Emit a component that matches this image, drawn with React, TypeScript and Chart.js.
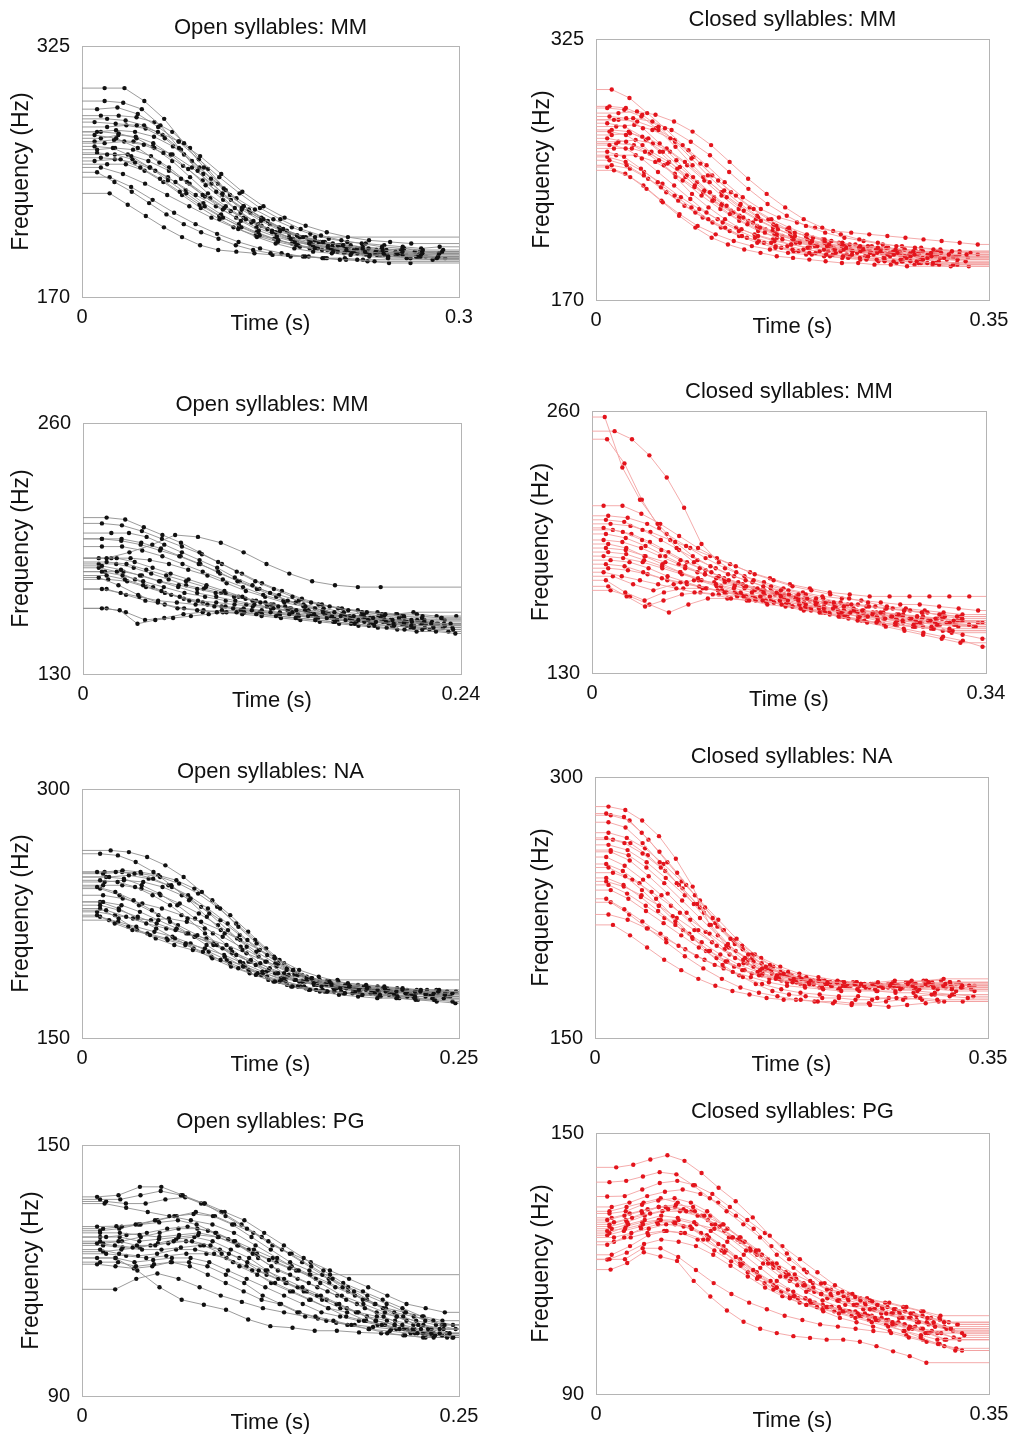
import React, { useEffect, useRef } from "react";
import { Chart, registerables } from "chart.js";
Chart.register(...registerables);

const FONT = "'Liberation Sans', Arial, Helvetica, sans-serif";

// ---------- Panel 1: Open syllables: MM (row 1) ----------
const om1Title = "Open syllables: MM";
const om1XTicks = ["0", "0.3"];
const om1YTicks = ["170", "325"];
const om1Start = [0.018, 0.018, 0.012, 0.015, 0.01, 0.02, 0.012, 0.01, 0.015, 0.018, 0.01, 0.012, 0.02, 0.015, 0.01, 0.02, 0.015, 0.012, 0.022, 0.022, 0.015, 0.02, 0.01, 0.012];
const om1Step = [0.0158, 0.0148, 0.0162, 0.0142, 0.0168, 0.0153, 0.0151, 0.0172, 0.0139, 0.0156, 0.0146, 0.0143, 0.0164, 0.0157, 0.0161, 0.0149, 0.0176, 0.0138, 0.0171, 0.0144, 0.0142, 0.0147, 0.0155, 0.0141];
const om1Freq = [
  [299, 299, 291, 280, 265, 250, 237, 226, 218, 212, 207, 204, 202, 200, 199, 198, 197, 198],
  [291, 290, 286, 276, 262, 248, 235, 225, 217, 211, 206, 203, 201, 199, 198, 197, 198, 196, 197],
  [286, 287, 283, 275, 266, 255, 244, 234, 225, 218, 212, 208, 205, 203, 201, 200, 199, 199],
  [282, 282, 281, 278, 272, 262, 249, 236, 226, 219, 213, 208, 205, 203, 202, 200, 199, 200, 198],
  [278, 277, 276, 272, 266, 257, 246, 235, 226, 219, 214, 210, 207, 205, 204, 203],
  [275, 276, 274, 268, 258, 246, 234, 224, 217, 211, 207, 204, 202, 200, 199, 198, 198],
  [272, 273, 272, 269, 263, 254, 243, 233, 224, 217, 211, 207, 204, 202, 201, 200, 199, 198, 197],
  [270, 268, 262, 253, 243, 233, 225, 218, 212, 207, 204, 201, 199, 198, 197, 196],
  [268, 270, 269, 265, 258, 249, 239, 230, 222, 215, 210, 206, 203, 201, 200, 199, 198, 197],
  [265, 266, 264, 259, 251, 242, 233, 225, 218, 212, 207, 204, 202, 200, 198, 197, 196, 195],
  [263, 262, 257, 250, 242, 234, 226, 219, 213, 208, 205, 202, 200, 198, 197, 196, 195],
  [261, 262, 261, 257, 250, 241, 232, 224, 217, 211, 207, 204, 202, 200, 199, 197, 196, 196, 195],
  [258, 258, 254, 248, 240, 231, 223, 216, 210, 205, 202, 200, 198, 197, 196, 195, 194],
  [256, 255, 250, 243, 235, 227, 220, 214, 209, 205, 202, 200, 198, 197, 196, 196],
  [254, 255, 253, 248, 241, 233, 226, 219, 213, 208, 204, 201, 199, 198, 197, 196, 195, 195],
  [252, 252, 248, 241, 233, 225, 218, 212, 207, 203, 200, 198, 197, 196, 195, 194, 194],
  [250, 246, 240, 233, 226, 219, 213, 208, 204, 201, 199, 197, 196, 195, 194, 193],
  [247, 241, 235, 228, 221, 215, 210, 206, 202, 199, 197, 196, 195, 194, 193, 193, 192],
  [244, 238, 230, 222, 215, 209, 204, 200, 197, 195, 194, 193, 192, 191, 191],
  [234, 227, 220, 213, 207, 202, 199, 198, 197, 196, 195, 195, 194, 194, 193],
  [272, 271, 268, 262, 254, 244, 234, 226, 219, 214, 210, 208, 207],
  [280, 279, 276, 270, 261, 250, 240, 231, 224, 218, 213, 209, 206, 204, 203, 202, 201, 200, 201],
  [266, 267, 266, 263, 258, 250, 240, 230, 222, 215, 209, 205, 202, 200, 198, 197, 196, 195, 194],
  [259, 258, 255, 250, 244, 236, 228, 221, 215, 210, 206, 203, 200, 199, 198, 197, 196, 196, 195, 194],
];

// ---------- Panel 2: Closed syllables: MM (row 1) ----------
const cm1Title = "Closed syllables: MM";
const cm1XTicks = ["0", "0.35"];
const cm1YTicks = ["170", "325"];
const cm1Start = [0.014, 0.01, 0.02, 0.012, 0.016, 0.01, 0.018, 0.012, 0.014, 0.01, 0.02, 0.012, 0.016, 0.01, 0.018, 0.012, 0.014, 0.016, 0.01, 0.02, 0.012, 0.018, 0.014, 0.01];
const cm1Step = [0.0158, 0.0152, 0.0165, 0.0149, 0.0171, 0.0156, 0.0161, 0.0147, 0.0163, 0.0168, 0.0153, 0.0144, 0.0159, 0.015, 0.0174, 0.0153, 0.0162, 0.0145, 0.0161, 0.0167, 0.0146, 0.0157, 0.0152, 0.0164];
const cm1Freq = [
  [295, 290, 281, 272, 262, 251, 241, 232, 224, 218, 213, 209, 206, 204, 202, 201, 200, 199, 198, 197, 197],
  [284, 283, 279, 271, 261, 250, 240, 231, 223, 217, 212, 208, 205, 203, 201, 200, 199, 198, 197, 196],
  [281, 282, 280, 276, 270, 262, 252, 242, 233, 225, 218, 213, 209, 206, 204, 202, 201, 200, 199, 198],
  [279, 278, 272, 263, 253, 243, 234, 226, 219, 213, 209, 206, 204, 202, 200, 199, 198, 197, 196, 195, 195],
  [277, 278, 276, 271, 264, 256, 246, 236, 227, 220, 214, 210, 207, 205, 203, 202, 201, 200, 199],
  [275, 273, 267, 258, 248, 238, 229, 221, 215, 210, 206, 204, 202, 200, 199, 198, 197, 196, 195, 195, 194],
  [273, 274, 271, 266, 259, 250, 240, 231, 224, 219, 216, 213, 211, 210, 209, 208, 207, 206, 205, 204, 203],
  [270, 268, 262, 253, 243, 233, 225, 218, 212, 208, 205, 203, 201, 200, 199, 198, 197, 196, 195, 194],
  [268, 269, 266, 260, 252, 243, 234, 226, 219, 214, 210, 207, 205, 203, 202, 201, 200, 199, 198, 197, 197],
  [266, 264, 258, 250, 241, 232, 224, 217, 211, 207, 204, 202, 200, 199, 198, 197, 196, 195, 194, 193],
  [264, 265, 263, 258, 250, 241, 232, 224, 218, 213, 209, 206, 204, 202, 201, 200, 199, 198, 197],
  [262, 260, 254, 246, 238, 230, 222, 216, 211, 207, 204, 202, 200, 199, 198, 197, 196, 195, 194, 193, 192],
  [260, 260, 257, 251, 243, 234, 226, 219, 213, 209, 206, 203, 201, 200, 199, 198, 197, 196, 196, 195],
  [258, 255, 248, 240, 232, 225, 218, 213, 208, 205, 202, 200, 198, 197, 196, 195, 194, 193, 193, 192],
  [256, 256, 252, 245, 237, 229, 222, 216, 211, 207, 204, 202, 200, 199, 198, 197, 196, 195, 195],
  [253, 250, 244, 237, 229, 222, 216, 211, 207, 204, 201, 199, 198, 197, 196, 195, 194, 193, 192, 192, 191],
  [250, 248, 242, 234, 226, 219, 213, 208, 204, 201, 199, 197, 196, 195, 194, 193, 193, 192, 191, 191],
  [247, 243, 236, 228, 220, 213, 207, 203, 200, 198, 196, 195, 194, 193, 192, 192, 191, 191, 190],
  [249, 245, 238, 229, 221, 214, 209, 205, 202, 200, 198, 197, 196, 195, 194, 193, 192, 191, 191, 190, 190],
  [277, 276, 272, 265, 255, 244, 234, 225, 218, 212, 208, 205, 203, 201, 200, 199, 198, 197, 196],
  [285, 284, 280, 273, 264, 254, 244, 235, 227, 220, 215, 211, 208, 206, 204, 203, 202, 201, 200, 199, 199],
  [263, 262, 258, 252, 244, 235, 227, 220, 214, 210, 207, 205, 203, 202, 201, 200, 199, 199, 198, 198],
  [271, 270, 265, 258, 249, 240, 231, 223, 217, 212, 208, 205, 203, 201, 200, 199, 198, 197, 197, 196, 196],
  [255, 252, 246, 239, 231, 224, 218, 213, 209, 206, 203, 201, 199, 197, 196, 195, 194, 194, 193, 192],
];

// ---------- Panel 3: Open syllables: MM (row 2) ----------
const om2Title = "Open syllables: MM";
const om2XTicks = ["0", "0.24"];
const om2YTicks = ["130", "260"];
const om2Start = [0.015, 0.012, 0.018, 0.012, 0.015, 0.01, 0.015, 0.012, 0.012, 0.015, 0.01, 0.012, 0.012, 0.015, 0.01, 0.012, 0.018, 0.014, 0.015, 0.012, 0.016, 0.01];
const om2Step = [0.0118, 0.0127, 0.0112, 0.0123, 0.0145, 0.0114, 0.0126, 0.0121, 0.0131, 0.0116, 0.0125, 0.0119, 0.0113, 0.0122, 0.0115, 0.0128, 0.0122, 0.0117, 0.0123, 0.0125, 0.012, 0.0111];
const om2Freq = [
  [211, 210, 206, 202, 198, 193, 188, 183, 178, 174, 170, 167, 165, 163, 162, 161, 160, 160, 159],
  [208, 207, 204, 200, 196, 192, 187, 182, 177, 173, 169, 166, 164, 162, 161, 160, 159, 159],
  [203, 203, 201, 197, 193, 189, 185, 180, 176, 172, 168, 165, 162, 160, 158, 157, 156, 155],
  [200, 199, 197, 194, 191, 187, 183, 178, 174, 170, 167, 164, 162, 160, 159, 158, 157, 156, 156],
  [190, 193, 197, 202, 201, 198, 193, 187, 182, 178, 176, 175, 175],
  [190, 190, 188, 185, 182, 179, 176, 173, 170, 167, 165, 163, 161, 160, 159, 158, 157, 156, 156],
  [188, 187, 184, 181, 178, 175, 172, 169, 167, 165, 163, 161, 160, 159, 158, 157, 157, 156],
  [186, 184, 181, 178, 175, 172, 170, 168, 166, 164, 162, 161, 160, 159, 158, 157, 157, 156, 155],
  [183, 181, 178, 175, 172, 170, 168, 166, 165, 163, 162, 161, 160, 159, 158, 158, 157],
  [181, 179, 176, 173, 170, 168, 167, 166, 165, 164, 163, 162, 161, 160, 160, 159, 159, 158],
  [180, 176, 171, 167, 164, 163, 162, 162, 161, 160, 159, 158, 157, 156, 155, 155, 154, 154, 153],
  [174, 172, 170, 168, 167, 166, 165, 164, 163, 162, 161, 160, 159, 158, 157, 157, 156, 156],
  [164, 163, 156, 158, 159, 160, 161, 162, 162, 161, 160, 159, 158, 157, 156, 155, 154, 153, 153],
  [164, 162, 158, 159, 161, 162, 163, 163, 162, 161, 160, 159, 158, 157, 157, 156, 155, 155, 154],
  [185, 183, 179, 175, 171, 168, 166, 165, 164, 163, 162, 161, 160, 159, 158, 157, 156, 155, 154, 154],
  [196, 196, 194, 191, 187, 183, 179, 175, 171, 168, 166, 164, 162, 161, 160, 159, 158, 158],
  [190, 190, 189, 187, 184, 181, 177, 173, 170, 167, 165, 163, 161, 160, 159, 158, 157, 156],
  [183, 183, 181, 178, 176, 174, 172, 170, 168, 166, 164, 162, 161, 160, 159, 158, 157, 157, 156],
  [174, 171, 168, 166, 164, 163, 162, 161, 160, 159, 158, 157, 156, 155, 154, 153, 152, 152, 151],
  [200, 200, 198, 195, 191, 187, 182, 178, 174, 171, 168, 166, 164, 163, 162, 161, 161, 160, 160],
  [179, 178, 175, 172, 169, 167, 165, 163, 162, 161, 160, 159, 158, 157, 156, 155, 154, 153, 152],
  [187, 187, 185, 182, 179, 176, 174, 172, 170, 168, 166, 164, 163, 162, 161, 160, 160, 161, 162],
];

// ---------- Panel 4: Closed syllables: MM (row 2) ----------
const cm2Title = "Closed syllables: MM";
const cm2XTicks = ["0", "0.34"];
const cm2YTicks = ["130", "260"];
const cm2Start = [0.011, 0.0195, 0.013, 0.01, 0.014, 0.012, 0.016, 0.01, 0.018, 0.012, 0.014, 0.01, 0.016, 0.012, 0.014, 0.01, 0.018, 0.012, 0.014, 0.016, 0.01, 0.012, 0.014];
const cm2Step = [0.0152, 0.015, 0.015, 0.0163, 0.0168, 0.0158, 0.0172, 0.0166, 0.016, 0.0171, 0.0155, 0.0169, 0.0164, 0.0161, 0.017, 0.0157, 0.0175, 0.0167, 0.0159, 0.0168, 0.0162, 0.0171, 0.0156];
const cm2Freq = [
  [257, 232, 216, 204, 195, 188, 183, 179, 176, 173, 171, 169, 167, 165, 164, 163, 162, 161, 160, 159, 158],
  [250, 246, 238, 227, 212, 194, 185, 180, 176, 173, 171, 169, 167, 165, 164, 163, 162, 161, 160, 158, 157],
  [246, 234, 216, 202, 192, 185, 180, 176, 173, 170, 168, 166, 164, 162, 160, 158, 157, 156, 155, 154],
  [213, 213, 209, 204, 198, 192, 187, 183, 179, 176, 173, 171, 169, 167, 165, 163, 162, 161, 160, 159],
  [208, 207, 204, 199, 193, 187, 182, 178, 175, 172, 170, 168, 167, 166, 165, 164, 164, 163, 162, 161],
  [206, 205, 201, 196, 191, 186, 182, 178, 175, 172, 169, 167, 165, 163, 161, 160, 159, 158, 157, 156],
  [204, 203, 200, 196, 192, 188, 184, 180, 177, 174, 172, 170, 169, 168, 168, 168, 168, 168, 168],
  [202, 200, 196, 191, 186, 182, 178, 175, 172, 170, 168, 166, 164, 162, 160, 158, 157, 156, 155, 154],
  [201, 199, 195, 190, 185, 181, 177, 174, 171, 169, 167, 165, 163, 161, 159, 158, 157, 156, 155],
  [192, 191, 188, 185, 182, 179, 176, 173, 171, 169, 167, 165, 163, 161, 160, 159, 158, 157, 156, 155],
  [190, 189, 186, 183, 180, 177, 174, 172, 170, 168, 166, 164, 162, 160, 158, 156, 155, 154, 153, 152],
  [188, 187, 185, 182, 179, 176, 173, 170, 168, 166, 164, 162, 160, 158, 157, 156, 155, 154, 154, 153],
  [186, 185, 182, 178, 175, 172, 170, 168, 166, 164, 162, 160, 158, 156, 155, 154, 153, 152, 151],
  [184, 183, 180, 177, 175, 173, 171, 169, 167, 165, 163, 161, 159, 157, 155, 153, 151, 149, 147, 145],
  [182, 181, 179, 176, 174, 172, 170, 168, 166, 164, 162, 160, 158, 156, 154, 152, 150, 148, 146, 143],
  [180, 178, 176, 174, 172, 170, 169, 167, 166, 164, 163, 161, 160, 158, 157, 155, 154, 153, 152, 151],
  [178, 174, 171, 174, 176, 175, 173, 171, 169, 167, 165, 163, 161, 160, 159, 158, 157, 156, 155],
  [176, 170, 166, 170, 172, 172, 171, 169, 168, 166, 164, 163, 161, 160, 158, 157, 156, 155, 154, 153],
  [173, 168, 163, 166, 169, 170, 169, 168, 166, 165, 163, 162, 160, 159, 158, 157, 156, 155, 154, 153],
  [171, 168, 164, 160, 164, 167, 167, 166, 165, 164, 163, 162, 161, 160, 159, 158, 157, 157, 156],
  [196, 195, 192, 188, 184, 180, 177, 174, 172, 170, 168, 166, 165, 164, 163, 162, 161, 160, 159, 158],
  [199, 197, 193, 188, 183, 179, 175, 172, 169, 167, 165, 163, 161, 159, 157, 155, 153, 151, 149, 147],
  [194, 192, 188, 184, 180, 176, 173, 170, 168, 166, 164, 162, 160, 158, 156, 155, 154, 153, 152, 150],
];

// ---------- Panel 5: Open syllables: NA ----------
const on1Title = "Open syllables: NA";
const on1XTicks = ["0", "0.25"];
const on1YTicks = ["150", "300"];
const on1Start = [0.019, 0.012, 0.01, 0.014, 0.018, 0.012, 0.015, 0.01, 0.012, 0.014, 0.012, 0.016, 0.01, 0.018, 0.012, 0.014, 0.01, 0.016, 0.012, 0.015, 0.012, 0.014];
const on1Step = [0.0121, 0.0118, 0.0124, 0.0126, 0.0131, 0.0116, 0.0128, 0.0121, 0.0129, 0.0122, 0.0125, 0.0133, 0.0117, 0.0127, 0.0123, 0.013, 0.0119, 0.0118, 0.0124, 0.0119, 0.012, 0.0127];
const on1Freq = [
  [263, 262, 259, 254, 247, 238, 228, 217, 207, 198, 191, 186, 184, 183, 182, 181, 180, 179, 179],
  [261, 260, 256, 250, 242, 233, 223, 213, 203, 195, 189, 185, 183, 182, 181, 180, 180, 179, 178, 178],
  [250, 250, 249, 246, 241, 234, 225, 215, 205, 196, 189, 184, 181, 180, 179, 179, 178, 178, 177, 177],
  [249, 250, 249, 247, 243, 237, 229, 219, 209, 199, 191, 186, 183, 181, 180, 179, 178, 177, 177],
  [247, 248, 246, 242, 236, 228, 219, 209, 200, 192, 186, 182, 180, 179, 178, 177, 177, 176],
  [245, 244, 241, 236, 230, 222, 213, 204, 196, 189, 184, 181, 179, 178, 177, 176, 176, 175, 175],
  [244, 245, 244, 241, 236, 229, 221, 212, 203, 195, 188, 183, 180, 178, 177, 176, 175, 175],
  [241, 238, 233, 227, 220, 213, 206, 199, 193, 188, 184, 181, 179, 178, 177, 177, 176, 175, 175, 174],
  [240, 236, 230, 224, 218, 212, 206, 200, 194, 189, 185, 182, 180, 179, 178, 177, 176, 176, 175],
  [232, 230, 226, 221, 216, 211, 206, 201, 196, 191, 187, 184, 182, 180, 179, 178, 178, 177],
  [230, 227, 223, 219, 215, 211, 207, 202, 197, 192, 188, 185, 183, 182, 181, 180, 179, 178, 178],
  [227, 223, 219, 216, 213, 210, 206, 201, 196, 191, 187, 184, 182, 181, 180, 179, 179, 178],
  [224, 219, 215, 212, 209, 206, 202, 197, 192, 188, 184, 181, 179, 178, 177, 176, 176, 175, 174, 174],
  [221, 217, 213, 210, 207, 204, 200, 195, 190, 185, 181, 178, 176, 175, 174, 174, 173, 173],
  [228, 222, 215, 210, 206, 203, 199, 195, 191, 187, 184, 181, 179, 178, 177, 176, 175, 174, 173, 172],
  [236, 234, 231, 228, 224, 220, 215, 209, 203, 197, 191, 187, 184, 182, 181, 180, 179, 179, 178],
  [226, 224, 222, 221, 222, 220, 216, 211, 205, 199, 193, 188, 185, 183, 182, 181, 180, 179, 178, 177],
  [247, 246, 242, 237, 230, 222, 213, 204, 196, 190, 186, 184, 185, 185],
  [232, 228, 222, 216, 210, 204, 198, 193, 189, 185, 182, 180, 178, 177, 176, 175, 174, 173, 172, 171],
  [250, 251, 250, 248, 245, 240, 233, 224, 214, 204, 195, 188, 184, 181, 180, 179, 178, 178, 177],
  [223, 220, 217, 214, 211, 207, 202, 197, 193, 189, 186, 184, 182, 181, 180, 179, 178, 177, 176, 176],
  [242, 242, 240, 236, 231, 225, 218, 210, 202, 195, 189, 185, 182, 180, 179, 178, 177, 176, 175],
];

// ---------- Panel 6: Closed syllables: NA ----------
const cn1Title = "Closed syllables: NA";
const cn1XTicks = ["0", "0.35"];
const cn1YTicks = ["150", "300"];
const cn1Start = [0.012, 0.01, 0.014, 0.012, 0.01, 0.016, 0.012, 0.014, 0.01, 0.012, 0.016, 0.01, 0.012, 0.014, 0.01, 0.012, 0.016, 0.014, 0.01, 0.012, 0.014, 0.01];
const cn1Step = [0.015, 0.0158, 0.0168, 0.0152, 0.0162, 0.0155, 0.017, 0.0159, 0.0164, 0.0149, 0.0172, 0.0154, 0.0166, 0.0157, 0.0161, 0.0171, 0.0152, 0.0165, 0.0148, 0.0163, 0.0169, 0.0157];
const cn1Freq = [
  [283, 281, 275, 266, 253, 237, 215, 203, 195, 189, 186, 184, 183, 182, 182, 181, 182, 183, 183, 182, 181, 180],
  [279, 277, 268, 257, 245, 232, 219, 207, 198, 191, 187, 184, 183, 182, 181, 181, 180, 181, 181, 180, 179],
  [278, 275, 264, 251, 238, 225, 212, 201, 193, 188, 185, 183, 182, 181, 181, 180, 180, 181, 181, 180],
  [274, 271, 262, 251, 239, 227, 215, 204, 196, 190, 186, 184, 183, 182, 181, 181, 180, 180, 181, 181, 182],
  [265, 262, 256, 248, 238, 227, 216, 206, 198, 192, 188, 185, 183, 182, 181, 180, 180, 179, 179, 178],
  [264, 262, 255, 246, 236, 225, 214, 204, 196, 190, 186, 184, 183, 182, 182, 181, 181, 182, 183, 184],
  [261, 258, 251, 242, 232, 222, 212, 203, 196, 191, 187, 185, 183, 182, 181, 181, 180, 180, 179, 179],
  [258, 255, 248, 239, 229, 219, 209, 200, 194, 189, 186, 184, 182, 181, 181, 180, 180, 181, 182, 182],
  [254, 249, 241, 232, 222, 212, 203, 196, 191, 187, 184, 182, 181, 180, 180, 179, 179, 178, 178, 177, 177],
  [248, 243, 235, 226, 217, 208, 200, 194, 189, 186, 184, 182, 181, 181, 180, 180, 181, 182, 182, 181],
  [245, 241, 234, 226, 218, 210, 202, 195, 190, 186, 183, 181, 180, 180, 179, 179, 180, 181, 181],
  [242, 238, 231, 223, 215, 207, 200, 194, 189, 186, 184, 182, 181, 180, 180, 179, 179, 178, 177, 176, 175],
  [238, 233, 226, 219, 212, 205, 198, 192, 188, 185, 183, 181, 180, 180, 179, 179, 180, 181, 180, 179],
  [235, 230, 223, 216, 209, 202, 196, 191, 187, 184, 182, 180, 179, 179, 178, 178, 179, 180, 180, 179],
  [230, 224, 217, 210, 203, 197, 192, 188, 185, 182, 180, 179, 178, 177, 177, 177, 176, 176, 175, 174, 173],
  [221, 218, 213, 207, 201, 195, 190, 185, 181, 178, 176, 175, 174, 174, 173, 173, 174, 175, 175, 174],
  [215, 209, 202, 195, 189, 184, 180, 177, 175, 173, 172, 172, 171, 171, 170, 170, 171, 172, 173, 172],
  [228, 221, 213, 205, 197, 190, 184, 179, 176, 174, 172, 171, 170, 169, 169, 168, 169, 170, 171, 171],
  [250, 246, 239, 230, 220, 210, 200, 192, 186, 181, 177, 175, 174, 173, 173, 172, 172, 173, 173, 172, 171],
  [268, 265, 259, 250, 240, 229, 218, 207, 198, 191, 186, 183, 181, 180, 180, 179, 179, 180, 180, 181, 180],
  [257, 252, 243, 233, 222, 211, 201, 193, 187, 183, 181, 179, 178, 178, 177, 177, 178, 179, 179, 178],
  [240, 237, 232, 226, 219, 212, 205, 198, 193, 189, 186, 184, 183, 182, 182, 181, 181, 182, 183, 183, 182],
];

// ---------- Panel 7: Open syllables: PG ----------
const op1Title = "Open syllables: PG";
const op1XTicks = ["0", "0.25"];
const op1YTicks = ["90", "150"];
const op1Start = [0.01, 0.012, 0.015, 0.01, 0.014, 0.012, 0.016, 0.012, 0.01, 0.014, 0.012, 0.016, 0.01, 0.012, 0.022, 0.022, 0.012, 0.014, 0.01, 0.016, 0.012, 0.014];
const op1Step = [0.0142, 0.0134, 0.0143, 0.0128, 0.0124, 0.0131, 0.0135, 0.0122, 0.0118, 0.0129, 0.0126, 0.0133, 0.0124, 0.0119, 0.014, 0.0147, 0.013, 0.0121, 0.0122, 0.0131, 0.0127, 0.0125];
const op1Freq = [
  [137.6, 138, 140, 140, 138, 136, 133, 130, 127, 124, 121, 118, 115, 112, 109, 107, 106],
  [137, 137, 138, 139, 138, 136, 134, 131, 128, 125, 122, 119, 116, 113, 111, 109, 107, 106],
  [136, 135, 134, 133, 132, 131, 129, 126, 123, 120, 117, 114, 112, 110, 108, 106, 105],
  [130.5, 130.6, 131, 132, 133, 133.5, 133, 131, 128, 125, 122, 120, 118, 116, 114, 112, 110, 108, 107],
  [130, 130.5, 131, 131.5, 132, 131, 129, 127, 124, 121, 119, 117, 115, 113, 111, 109, 107, 106, 105],
  [129, 129, 128.5, 128, 128.5, 129, 128, 126, 123, 120, 118, 116, 114, 112, 110, 109, 108, 107, 106],
  [128, 128.5, 129, 130, 130.5, 129.5, 127.5, 125, 122.5, 120.5, 119, 119],
  [127, 127, 126, 126, 127, 127, 126, 124, 122, 120, 118, 116, 114, 112, 110, 108, 107, 106, 105],
  [126.5, 126, 125.5, 126, 126.5, 127, 126, 124, 121, 119, 117, 115, 113, 111, 109, 108, 107, 106, 105, 104.5],
  [126, 125.5, 125, 125, 125.5, 126, 125, 123, 120, 118, 116, 114, 112, 110, 108, 107, 106, 105, 104],
  [125, 124, 123.5, 124, 125, 125, 124, 122, 120, 117, 115, 113, 111, 110, 108, 107, 106, 105, 104.5],
  [124, 123.5, 123, 123.5, 124, 124, 123, 121, 119, 117, 115, 113, 111, 109, 108, 106, 105, 104],
  [123, 123, 122, 122.5, 123, 123, 122, 120, 118, 116, 114, 112, 110, 109, 108, 107, 106, 105, 104, 104],
  [122, 122, 121, 121.5, 122, 121, 119, 117, 115, 113, 112, 110, 109, 108, 107, 106, 105, 104.5, 104],
  [115.5, 118, 119.3, 118, 116, 114, 112.5, 111, 110, 109, 108, 107, 106, 105.5, 105, 104.5],
  [123, 120, 116, 113, 111.8, 110.6, 108.3, 106.7, 106.3, 105.6, 105.6, 105.2, 105, 104.5, 104],
  [128, 128, 127, 127.5, 128, 128.5, 128, 126, 124, 122, 120, 118, 116, 114, 112, 110, 109, 108, 107],
  [124.5, 125, 125.5, 126.5, 127.5, 128, 127, 125, 123, 120, 117, 115, 113, 111, 110, 109, 108, 107, 106],
  [121.5, 121, 120.5, 121, 122, 122, 121, 119, 117, 114, 112, 110, 108.5, 107.5, 107, 106.5, 106, 105.5, 105, 105],
  [136.5, 136, 136, 137, 137.5, 136, 134, 132, 129, 126, 123, 120, 117, 115, 113, 111, 109, 107],
  [129.5, 130, 131, 132, 133, 134, 133, 131, 129, 126, 124, 122, 120, 118, 116, 114, 112, 111, 110],
  [126.5, 127, 128, 129, 130, 130, 129, 127, 125, 123, 121, 119, 117, 115, 113, 111, 110, 109, 108],
];

// ---------- Panel 8: Closed syllables: PG ----------
const cp1Title = "Closed syllables: PG";
const cp1XTicks = ["0", "0.35"];
const cp1YTicks = ["90", "150"];
const cp1Start = [0.018, 0.012, 0.01, 0.014, 0.012, 0.01, 0.016, 0.012, 0.014, 0.01, 0.012, 0.016, 0.01, 0.014, 0.012, 0.013, 0.01, 0.016, 0.012, 0.014, 0.01, 0.012];
const cp1Step = [0.0152, 0.0149, 0.0156, 0.0158, 0.0145, 0.0153, 0.0161, 0.0157, 0.0147, 0.0159, 0.0146, 0.0155, 0.0151, 0.0163, 0.0154, 0.0148, 0.0158, 0.0149, 0.0152, 0.016, 0.0148, 0.0146];
const cp1Freq = [
  [142.1, 142.7, 143.9, 144.9, 143.6, 140.8, 137.4, 134.3, 130.6, 126.4, 122.3, 118.6, 115.4, 113.2, 112.3, 111.3, 111, 110, 109, 108],
  [138.7, 139, 140, 141, 140.5, 138, 135, 132, 129, 126, 122, 119, 116, 114, 112.5, 111.5, 110.5, 109.5, 108.5, 107.5, 106.5],
  [135.4, 135.5, 137, 138.5, 139, 138, 136, 133, 130, 127, 124, 121, 118, 115, 113, 111.5, 110, 109, 108, 107, 106],
  [133, 134, 135.5, 136.5, 137, 136, 134, 131, 128, 124, 121, 118, 115.5, 113.5, 112, 110.5, 109.5, 108.5, 107.5, 106.5],
  [131.5, 132, 133.5, 134.5, 135, 134, 132, 129, 126, 123, 120, 117.5, 115, 113, 111.5, 110.5, 109.5, 108.5, 107.5, 106.5, 105.5],
  [130, 131, 132, 133, 133.5, 133, 131, 128, 125, 122, 119, 116.5, 114.5, 113, 112, 111, 110, 109, 108, 106.5, 105],
  [129.5, 130.5, 131.5, 132.5, 132, 131, 129, 126, 123, 120, 117.5, 115.5, 114, 113, 112, 111, 110, 109, 107.5, 106],
  [128.5, 129.5, 131, 132, 132, 131, 129, 126, 123, 120, 117, 115, 113, 111.5, 110.5, 109.5, 108.5, 107.5, 106.5, 105.5, 104],
  [128, 129, 130, 131, 130.5, 129.5, 127.5, 125, 122, 119, 116, 113.5, 111.5, 110, 109, 108, 107, 106, 105, 104],
  [127.5, 128, 129, 130, 130, 129, 128, 126, 123.5, 121, 118, 115.5, 113, 111.5, 110.5, 109.5, 108.5, 107.5, 106, 105, 103.5],
  [127, 128.5, 129.5, 130, 129.5, 128, 125.5, 122.5, 119.5, 116.5, 114, 112, 110.5, 109.5, 108.5, 107.5, 106.5, 105.5, 104.5, 103.5, 102.5],
  [126, 127, 128, 129, 128.5, 127, 124.5, 121.5, 118.5, 116, 114, 112, 110.5, 109.5, 108.5, 107.5, 106.5, 105.5, 104, 102.5],
  [124.3, 126, 128, 129, 129, 128, 126, 123, 120, 117, 114.5, 112.5, 111, 110, 109, 108, 107, 106, 105, 104, 102.5],
  [122, 124, 126.5, 127.5, 127, 125.5, 123, 120, 117, 114.5, 112.5, 111, 110, 109, 108, 107, 106, 105, 104, 102.5],
  [121, 122.5, 124.5, 125.5, 125, 124, 122, 119.5, 117, 114.5, 112.5, 111, 110, 109, 108, 107, 106, 104.5, 103, 101.5, 100],
  [118.6, 120.1, 122.6, 121.6, 120.6, 116, 112.4, 109.2, 106.6, 105, 104, 103.3, 102.9, 102.5, 102.5, 102, 101, 99.8, 98.7, 97.2],
  [120.9, 121, 123.5, 123.5, 121.5, 118.5, 115.5, 113, 111, 109.5, 108, 107, 106, 105.5, 105, 104.5, 104, 103, 102, 101, 100],
  [125, 126, 127, 127.5, 127, 125.5, 123, 120.5, 118, 115.5, 113.5, 112, 111, 110, 109, 108.5, 107.5, 106.5, 105.5, 104.5],
  [132, 133, 134, 135, 134, 132, 129, 126, 123, 120, 117, 115, 113.5, 112.5, 111.5, 110.5, 109.5, 108.5, 107, 106, 105],
  [130.5, 131.5, 132.5, 133, 132.5, 131, 128.5, 125.5, 122.5, 119.5, 116.5, 114, 112, 110.5, 109.5, 108.5, 107.5, 106.5, 105.5, 104.5],
  [126.5, 127.5, 128.5, 129.5, 129.5, 128.5, 126.5, 124, 121, 118, 115, 112.5, 110.5, 109, 107.5, 106.5, 105.5, 104.5, 103.5, 102.5, 101.5, 100.5],
  [129, 130, 131.5, 133, 133, 132, 130, 127.5, 125, 122, 119, 116, 113.5, 111.5, 110, 109, 108, 107, 106, 105, 104, 103],
];

// ---------- Panel layout (positions in page pixels) ----------
type Geom = { L: number; T: number; R: number; B: number; titleY: number; ylabX: number };
type PanelDef = {
  title: string; xMax: number; yMin: number; yMax: number;
  xTicks: string[]; yTicks: string[];
  start: number[]; step: number[]; freq: number[][];
  red: boolean; geom: Geom;
};

const panels: PanelDef[] = [
  { title: om1Title, xMax: 0.3, yMin: 170, yMax: 325, xTicks: om1XTicks, yTicks: om1YTicks, start: om1Start, step: om1Step, freq: om1Freq, red: false, geom: { L: 82, T: 46, R: 459, B: 297, titleY: 28, ylabX: 22 } },
  { title: cm1Title, xMax: 0.35, yMin: 170, yMax: 325, xTicks: cm1XTicks, yTicks: cm1YTicks, start: cm1Start, step: cm1Step, freq: cm1Freq, red: true, geom: { L: 596, T: 39, R: 989, B: 300, titleY: 20, ylabX: 543 } },
  { title: om2Title, xMax: 0.24, yMin: 130, yMax: 260, xTicks: om2XTicks, yTicks: om2YTicks, start: om2Start, step: om2Step, freq: om2Freq, red: false, geom: { L: 83, T: 423, R: 461, B: 674, titleY: 405, ylabX: 22 } },
  { title: cm2Title, xMax: 0.34, yMin: 130, yMax: 260, xTicks: cm2XTicks, yTicks: cm2YTicks, start: cm2Start, step: cm2Step, freq: cm2Freq, red: true, geom: { L: 592, T: 411, R: 986, B: 673, titleY: 392, ylabX: 542 } },
  { title: on1Title, xMax: 0.25, yMin: 150, yMax: 300, xTicks: on1XTicks, yTicks: on1YTicks, start: on1Start, step: on1Step, freq: on1Freq, red: false, geom: { L: 82, T: 789, R: 459, B: 1038, titleY: 772, ylabX: 22 } },
  { title: cn1Title, xMax: 0.35, yMin: 150, yMax: 300, xTicks: cn1XTicks, yTicks: cn1YTicks, start: cn1Start, step: cn1Step, freq: cn1Freq, red: true, geom: { L: 595, T: 777, R: 988, B: 1038, titleY: 757, ylabX: 542 } },
  { title: op1Title, xMax: 0.25, yMin: 90, yMax: 150, xTicks: op1XTicks, yTicks: op1YTicks, start: op1Start, step: op1Step, freq: op1Freq, red: false, geom: { L: 82, T: 1145, R: 459, B: 1396, titleY: 1122, ylabX: 32 } },
  { title: cp1Title, xMax: 0.35, yMin: 90, yMax: 150, xTicks: cp1XTicks, yTicks: cp1YTicks, start: cp1Start, step: cp1Step, freq: cp1Freq, red: true, geom: { L: 596, T: 1133, R: 989, B: 1394, titleY: 1112, ylabX: 542 } },
];

const MARGIN_X = 82;
const MARGIN_TOP = 50;
const MARGIN_BOTTOM = 40;
const FRAME = "#b4b4b4";
const TEXT = "#111111";

function PanelChart({ p }: { p: PanelDef }) {
  const ref = useRef<HTMLCanvasElement>(null);
  const g = p.geom;
  const left = g.L - MARGIN_X;
  const top = g.T - MARGIN_TOP;
  const w = g.R - g.L + 2 * MARGIN_X;
  const h = g.B - g.T + MARGIN_TOP + MARGIN_BOTTOM;

  useEffect(() => {
    if (!ref.current) return;
    const lineColor = p.red ? "#f3a2a2" : "#8e8e8e";
    const dotColor = p.red ? "#e3141c" : "#111111";
    const datasets = p.freq.map((f, i) => {
      const pts = f.map((v, k) => ({ x: p.start[i] + k * p.step[i], y: v }));
      const data = [{ x: 0, y: f[0] }, ...pts, { x: p.xMax, y: f[f.length - 1] }];
      const n = data.length;
      return {
        data,
        borderColor: lineColor,
        borderWidth: 0.9,
        pointRadius: (c: any) => (c.dataIndex === 0 || c.dataIndex === n - 1 ? 0 : 2.2),
        pointHoverRadius: 0,
        pointBackgroundColor: dotColor,
        pointBorderWidth: 0,
        tension: 0,
        fill: false,
      };
    });
    const d = g.T - g.titleY;
    const titleLH = 22 * 1.2;
    const yTitleLH = 23 * 1.2;
    const chart = new Chart(ref.current, {
      type: "line",
      data: { datasets },
      options: {
        animation: false,
        responsive: false,
        maintainAspectRatio: false,
        devicePixelRatio: 1,
        events: [],
        layout: { padding: { left: 0, top: 0, right: MARGIN_X, bottom: 0 } },
        plugins: {
          legend: { display: false },
          tooltip: { enabled: false },
          title: {
            display: true,
            fullSize: false,
            text: p.title,
            color: TEXT,
            font: { family: FONT, size: 22, weight: "normal" },
            padding: { top: MARGIN_TOP - d - titleLH / 2, bottom: d - titleLH / 2 },
          },
        },
        scales: {
          x: {
            type: "linear",
            min: 0,
            max: p.xMax,
            afterBuildTicks: (s: any) => { s.ticks = [{ value: 0 }, { value: p.xMax }]; },
            afterFit: (s: any) => { s.height = MARGIN_BOTTOM; },
            grid: { color: FRAME, lineWidth: 1, drawTicks: false },
            border: { color: FRAME, width: 1 },
            ticks: {
              padding: 8,
              maxRotation: 0,
              autoSkip: false,
              color: TEXT,
              font: { family: FONT, size: 20 },
              callback: (_v: any, i: number) => p.xTicks[i],
            },
            title: { display: true, text: "Time (s)", color: TEXT, font: { family: FONT, size: 22 }, padding: { top: 0, bottom: 0 } },
          },
          y: {
            type: "linear",
            min: p.yMin,
            max: p.yMax,
            afterBuildTicks: (s: any) => { s.ticks = [{ value: p.yMin }, { value: p.yMax }]; },
            afterFit: (s: any) => { s.width = MARGIN_X; },
            grid: { color: FRAME, lineWidth: 1, drawTicks: false },
            border: { color: FRAME, width: 1 },
            ticks: {
              padding: 12,
              autoSkip: false,
              color: TEXT,
              font: { family: FONT, size: 20 },
              callback: (_v: any, i: number) => p.yTicks[i],
            },
            title: {
              display: true,
              text: "Frequency (Hz)",
              color: TEXT,
              font: { family: FONT, size: 23 },
              padding: { top: g.ylabX - left - yTitleLH / 2, bottom: 0 },
            },
          },
        },
      } as any,
    });
    return () => chart.destroy();
  }, []);

  return (
    <canvas
      ref={ref}
      width={w}
      height={h}
      style={{ position: "absolute", left, top, width: w, height: h }}
    />
  );
}

export default function App() {
  return (
    <div style={{ position: "absolute", left: 0, top: 0, width: 1014, height: 1439, background: "#ffffff", overflow: "hidden" }}>
      {panels.map((p, i) => (
        <PanelChart key={i} p={p} />
      ))}
    </div>
  );
}
